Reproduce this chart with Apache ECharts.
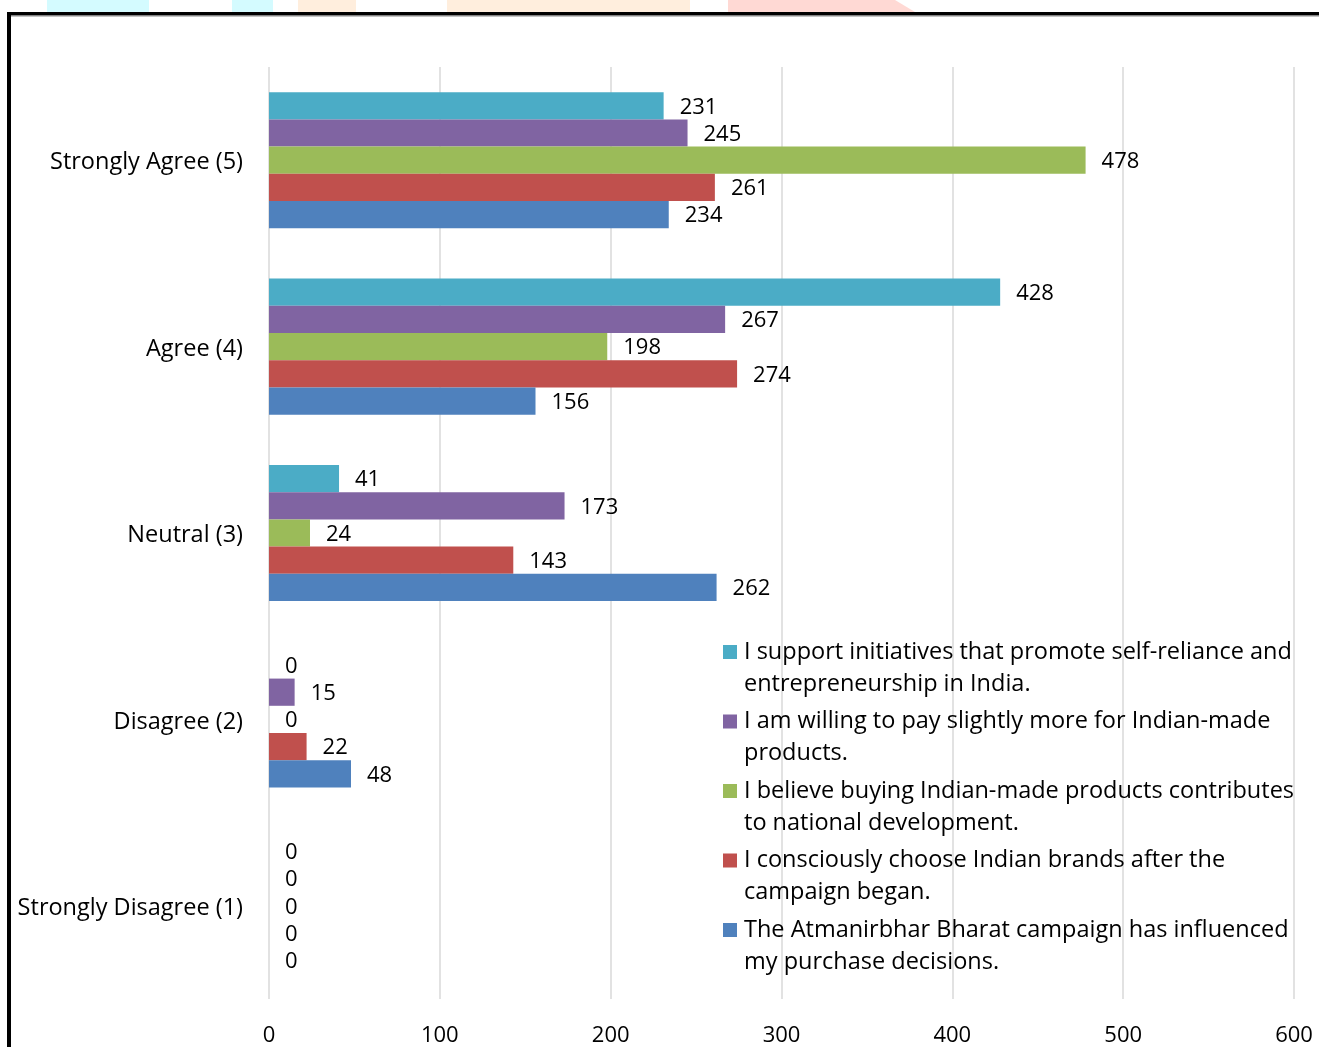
<!DOCTYPE html>
<html><head><meta charset="utf-8">
<style>html,body{margin:0;padding:0;background:#fff}#c{width:1319px;height:1047px}</style>
<script src="https://cdn.jsdelivr.net/npm/echarts@6/dist/echarts.min.js"></script>
</head><body><div id="c"></div>
<script>
const categories = ['Strongly Disagree (1)', 'Disagree (2)', 'Neutral (3)', 'Agree (4)', 'Strongly Agree (5)'];
const seriesNames = [
  'I support initiatives that promote self-reliance and entrepreneurship in India.',
  'I am willing to pay slightly more for Indian-made products.',
  'I believe buying Indian-made products contributes to national development.',
  'I consciously choose Indian brands after the campaign began.',
  'The Atmanirbhar Bharat campaign has influenced my purchase decisions.'
];
const legendWrapped = {
  'I support initiatives that promote self-reliance and entrepreneurship in India.': 'I support initiatives that promote self-reliance and\nentrepreneurship in India.',
  'I am willing to pay slightly more for Indian-made products.': 'I am willing to pay slightly more for Indian-made\nproducts.',
  'I believe buying Indian-made products contributes to national development.': 'I believe buying Indian-made products contributes\nto national development.',
  'I consciously choose Indian brands after the campaign began.': 'I consciously choose Indian brands after the\ncampaign began.',
  'The Atmanirbhar Bharat campaign has influenced my purchase decisions.': 'The Atmanirbhar Bharat campaign has influenced\nmy purchase decisions.'
};
const support = [0, 0, 41, 428, 231];
const payMore = [0, 15, 173, 267, 245];
const contributes = [0, 0, 24, 198, 478];
const consciously = [0, 22, 143, 274, 261];
const influenced = [0, 48, 262, 156, 234];
const seriesValues = [support, payMore, contributes, consciously, influenced];
const colors = ['#4BACC6', '#8064A2', '#9BBB59', '#C0504D', '#4F81BD'];
const xTicks = [0, 100, 200, 300, 400, 500, 600];

const FONT = 'Open Sans';
const chart = echarts.init(document.getElementById('c'));
chart.setOption({
  animation: false,
  textStyle: { fontFamily: FONT },
  graphic: [
    { type: 'rect', shape: { x: 47, y: 0, width: 102, height: 12 }, style: { fill: '#d4fbff' }, silent: true },
    { type: 'rect', shape: { x: 232, y: 0, width: 41, height: 12 }, style: { fill: '#d4fbff' }, silent: true },
    { type: 'rect', shape: { x: 298, y: 0, width: 58, height: 12 }, style: { fill: '#ffeedd' }, silent: true },
    { type: 'rect', shape: { x: 447, y: 0, width: 243, height: 12 }, style: { fill: '#ffeedd' }, silent: true },
    { type: 'polygon', shape: { points: [[728, 0], [895, 0], [915, 12], [728, 12]] }, style: { fill: '#ffd9d4' }, silent: true },
    { type: 'rect', shape: { x: 7, y: 12, width: 1312, height: 3.5 }, style: { fill: '#000' }, silent: true },
    { type: 'rect', shape: { x: 7, y: 15.5, width: 1312, height: 1 }, style: { fill: '#888' }, silent: true },
    { type: 'rect', shape: { x: 7, y: 12, width: 4, height: 1035 }, style: { fill: '#000' }, silent: true }
  ],
  grid: { left: 269, right: 25, top: 67, bottom: 46, containLabel: false },
  legend: {
    orient: 'vertical',
    left: 723,
    top: 636,
    padding: 0,
    data: seriesNames,
    icon: 'path://M0,0L14,0L14,14L0,14Z M0,46L14,46',
    itemWidth: 14,
    itemHeight: 46,
    itemGap: 5.5,
    formatter: function (n) { return legendWrapped[n]; },
    textStyle: { fontFamily: FONT, fontSize: 23.5, color: '#000', lineHeight: 32, padding: [0, 0, 0, 2] }
  },
  xAxis: {
    type: 'value',
    min: 0, max: 600, interval: 100,
    axisLine: { show: false },
    axisTick: { show: false },
    splitLine: { show: true, lineStyle: { color: '#d9d9d9', width: 1.5 } },
    axisLabel: { fontFamily: FONT, fontSize: 22, color: '#000', margin: 26,
      formatter: function (v) { return xTicks.indexOf(v) >= 0 ? String(v) : ''; } }
  },
  yAxis: {
    type: 'category',
    data: categories,
    axisLine: { show: false },
    axisTick: { show: false },
    axisLabel: {
      fontFamily: FONT, fontSize: 23.5, color: '#000', margin: 26,
      formatter: function (v) { return '{c|' + v + '}'; },
      rich: { c: { fontFamily: FONT, fontSize: 23.5, color: '#000', padding: [5, 0, 0, 0] } }
    }
  },
  series: seriesNames.map(function (name, i) {
    return {
      name: name,
      type: 'bar',
      data: seriesValues[i],
      barGap: '0%',
      barCategoryGap: '27%',
      itemStyle: { color: colors[i] },
      label: { show: true, position: 'right', distance: 16, offset: [0, 1.5], fontFamily: FONT, fontSize: 22, color: '#000' }
    };
  })
});
</script></body></html>
